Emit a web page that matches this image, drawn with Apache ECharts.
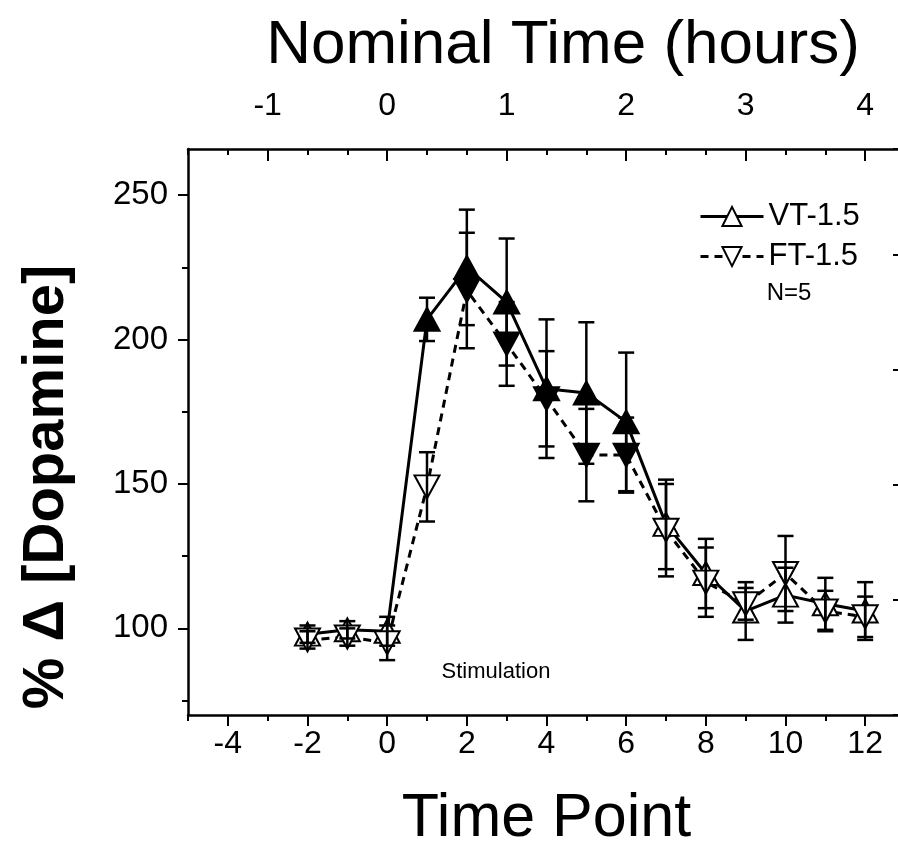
<!DOCTYPE html>
<html>
<head>
<meta charset="utf-8">
<script src="https://cdn.jsdelivr.net/npm/echarts@6/dist/echarts.min.js"></script>
<style>
html,body{margin:0;padding:0;background:#fff;}
#chart{width:898px;height:845px;}
</style>
</head>
<body>
<div id="chart"></div>
<script>
// ---- data ----
const timePoints = [-2, -1, 0, 1, 2, 3, 4, 5, 6, 7, 8, 9, 10, 11, 12];
const vtMean = [98, 99.5, 99, 207, 225, 213, 183, 181.5, 171.5, 136, 119, 106, 111.5, 108.5, 106];
const vtErr  = [3, 3, 5, 7.5, 20, 22, 24, 24.5, 24, 15.5, 12, 10, 9.5, 9, 10];
const ftMean = [96, 97, 95, 149, 217, 198.5, 179.5, 160, 160, 134, 116, 108.5, 119, 106, 104];
const ftErr  = [3, 3, 6, 12, 20, 14.5, 16.5, 16, 13, 16, 12, 5.5, 13, 7, 7];
const vtFilled = [0, 0, 0, 1, 1, 1, 1, 1, 1, 0, 0, 0, 0, 0, 0];
const ftFilled = [0, 0, 0, 0, 1, 1, 1, 1, 1, 0, 0, 0, 0, 0, 0];
const seriesNames = ['VT-1.5', 'FT-1.5'];
const xTickLabels = [-4, -2, 0, 2, 4, 6, 8, 10, 12];
const hourLabels = [-1, 0, 1, 2, 3, 4];
const yTickLabels = [100, 150, 200, 250];
const yMinorTicks = [75, 125, 175, 225];

const FONT = "'Liberation Sans', Arial, sans-serif";
const hourTicks = hourLabels.map(h => h * 3);
const UP = 'path://M10,0 L20,20 L0,20 Z';
const DOWN = 'path://M0,0 L20,0 L10,20 Z';

function pts(mean, filled) {
  return timePoints.map((t, i) => ({
    value: [t, mean[i]],
    itemStyle: { color: filled[i] ? '#000' : '#fff' }
  }));
}
function errData(mean, err) {
  return timePoints.map((t, i) => [t, mean[i], err[i]]);
}
function renderErr(params, api) {
  const x = api.value(0), m = api.value(1), e = api.value(2);
  const top = api.coord([x, m + e]);
  const bot = api.coord([x, m - e]);
  const hw = 8;
  const st = { stroke: '#000', lineWidth: 2.5 };
  return {
    type: 'group',
    children: [
      { type: 'line', shape: { x1: top[0], y1: top[1], x2: bot[0], y2: bot[1] }, style: st },
      { type: 'line', shape: { x1: top[0] - hw, y1: top[1], x2: top[0] + hw, y2: top[1] }, style: st },
      { type: 'line', shape: { x1: bot[0] - hw, y1: bot[1], x2: bot[0] + hw, y2: bot[1] }, style: st }
    ]
  };
}

const axisLine = { show: true, onZero: false, lineStyle: { color: '#000', width: 2.5 } };
const noLine = { show: false, onZero: false };
const tickStyle = { color: '#000', width: 2 };
const noSplit = { show: false };

const chart = echarts.init(document.getElementById('chart'), null, { renderer: 'canvas' });
chart.setOption({
  backgroundColor: '#fff',
  animation: false,
  textStyle: { fontFamily: FONT },
  grid: { left: 188, top: 149, width: 717, height: 566, containLabel: false, outerBoundsMode: 'none' },
  legend: {
    data: seriesNames,
    orient: 'vertical',
    left: 694,
    top: 196,
    itemWidth: 63,
    itemHeight: 24,
    itemGap: 9,
    lineStyle: { width: 3, color: '#000' },
    textStyle: { fontSize: 31, color: '#000', fontFamily: FONT, padding: [0, 0, 0, 0] }
  },
  xAxis: [
    {
      type: 'value', position: 'bottom', min: -5, max: 13,
      axisLine: axisLine,
      axisTick: { show: true, customValues: xTickLabels, length: 11, lineStyle: tickStyle },
      axisLabel: { customValues: xTickLabels, fontSize: 32, color: '#000', margin: 13, fontFamily: FONT },
      splitLine: noSplit,
      name: 'Time Point', nameLocation: 'middle', nameGap: 74,
      nameTextStyle: { fontSize: 61, color: '#000', fontFamily: FONT }
    },
    {
      type: 'value', position: 'bottom', min: -5, max: 13, interval: 1,
      axisLine: noLine,
      axisTick: { show: true, length: 6, lineStyle: tickStyle },
      axisLabel: { show: false }, splitLine: noSplit
    },
    {
      type: 'value', position: 'top', min: -5, max: 13,
      axisLine: axisLine,
      axisTick: { show: true, inside: true, customValues: hourTicks, length: 12, lineStyle: tickStyle },
      axisLabel: { customValues: hourTicks, fontSize: 32, color: '#000', margin: 27, fontFamily: FONT,
        formatter: v => String(hourLabels[hourTicks.indexOf(v)]) },
      splitLine: noSplit
    },
    {
      type: 'value', position: 'top', min: -5, max: 13, interval: 1,
      axisLine: noLine,
      axisTick: { show: true, inside: true, length: 6, lineStyle: tickStyle },
      axisLabel: { show: false }, splitLine: noSplit
    }
  ],
  yAxis: [
    {
      type: 'value', position: 'left', min: 70, max: 266,
      axisLine: axisLine,
      axisTick: { show: true, customValues: yTickLabels, length: 10, lineStyle: tickStyle },
      axisLabel: { customValues: yTickLabels, fontSize: 33, color: '#000', margin: 20, fontFamily: FONT },
      splitLine: noSplit
    },
    {
      type: 'value', position: 'left', min: 70, max: 266,
      axisLine: noLine,
      axisTick: { show: true, customValues: yMinorTicks, length: 6, lineStyle: tickStyle },
      axisLabel: { show: false }, splitLine: noSplit
    },
    {
      type: 'value', position: 'right', min: 0, max: 4.92, interval: 1,
      axisLine: axisLine,
      axisTick: { show: true, inside: true, length: 12, lineStyle: tickStyle },
      axisLabel: { show: false }, splitLine: noSplit
    }
  ],
  graphic: [
    { type: 'text', x: 563, y: 46, style: { text: 'Nominal Time (hours)', fontSize: 62, fontFamily: FONT, fill: '#000', align: 'center', verticalAlign: 'middle' } },
    { type: 'text', x: 47, y: 487, rotation: Math.PI / 2, style: { text: '% \u0394 [Dopamine]', fontSize: 58, fontWeight: 'bold', fontFamily: FONT, fill: '#000', align: 'center', verticalAlign: 'middle' } },
    { type: 'text', x: 789, y: 293, style: { text: 'N=5', fontSize: 24, fontFamily: FONT, fill: '#000', align: 'center', verticalAlign: 'middle' } },
    { type: 'text', x: 496, y: 672, style: { text: 'Stimulation', fontSize: 22, fontFamily: FONT, fill: '#000', align: 'center', verticalAlign: 'middle' } }
  ],
  series: [
    {
      name: seriesNames[0], type: 'line', xAxisIndex: 0, yAxisIndex: 0,
      data: pts(vtMean, vtFilled),
      symbol: UP, symbolSize: [25, 23],
      lineStyle: { color: '#000', width: 3, type: 'solid' },
      itemStyle: { color: '#fff', borderColor: '#000', borderWidth: 2 },
      z: 3
    },
    {
      name: seriesNames[1], type: 'line', xAxisIndex: 0, yAxisIndex: 0,
      data: pts(ftMean, ftFilled),
      symbol: DOWN, symbolSize: [25, 23],
      lineStyle: { color: '#000', width: 3, type: [8, 6] },
      itemStyle: { color: '#fff', borderColor: '#000', borderWidth: 2 },
      z: 3
    },
    {
      name: 'vtErr', type: 'custom', xAxisIndex: 0, yAxisIndex: 0,
      data: errData(vtMean, vtErr), renderItem: renderErr,
      encode: { x: 0, y: 1 }, z: 5, silent: true
    },
    {
      name: 'ftErr', type: 'custom', xAxisIndex: 0, yAxisIndex: 0,
      data: errData(ftMean, ftErr), renderItem: renderErr,
      encode: { x: 0, y: 1 }, z: 5, silent: true
    }
  ]
});
</script>
</body>
</html>
